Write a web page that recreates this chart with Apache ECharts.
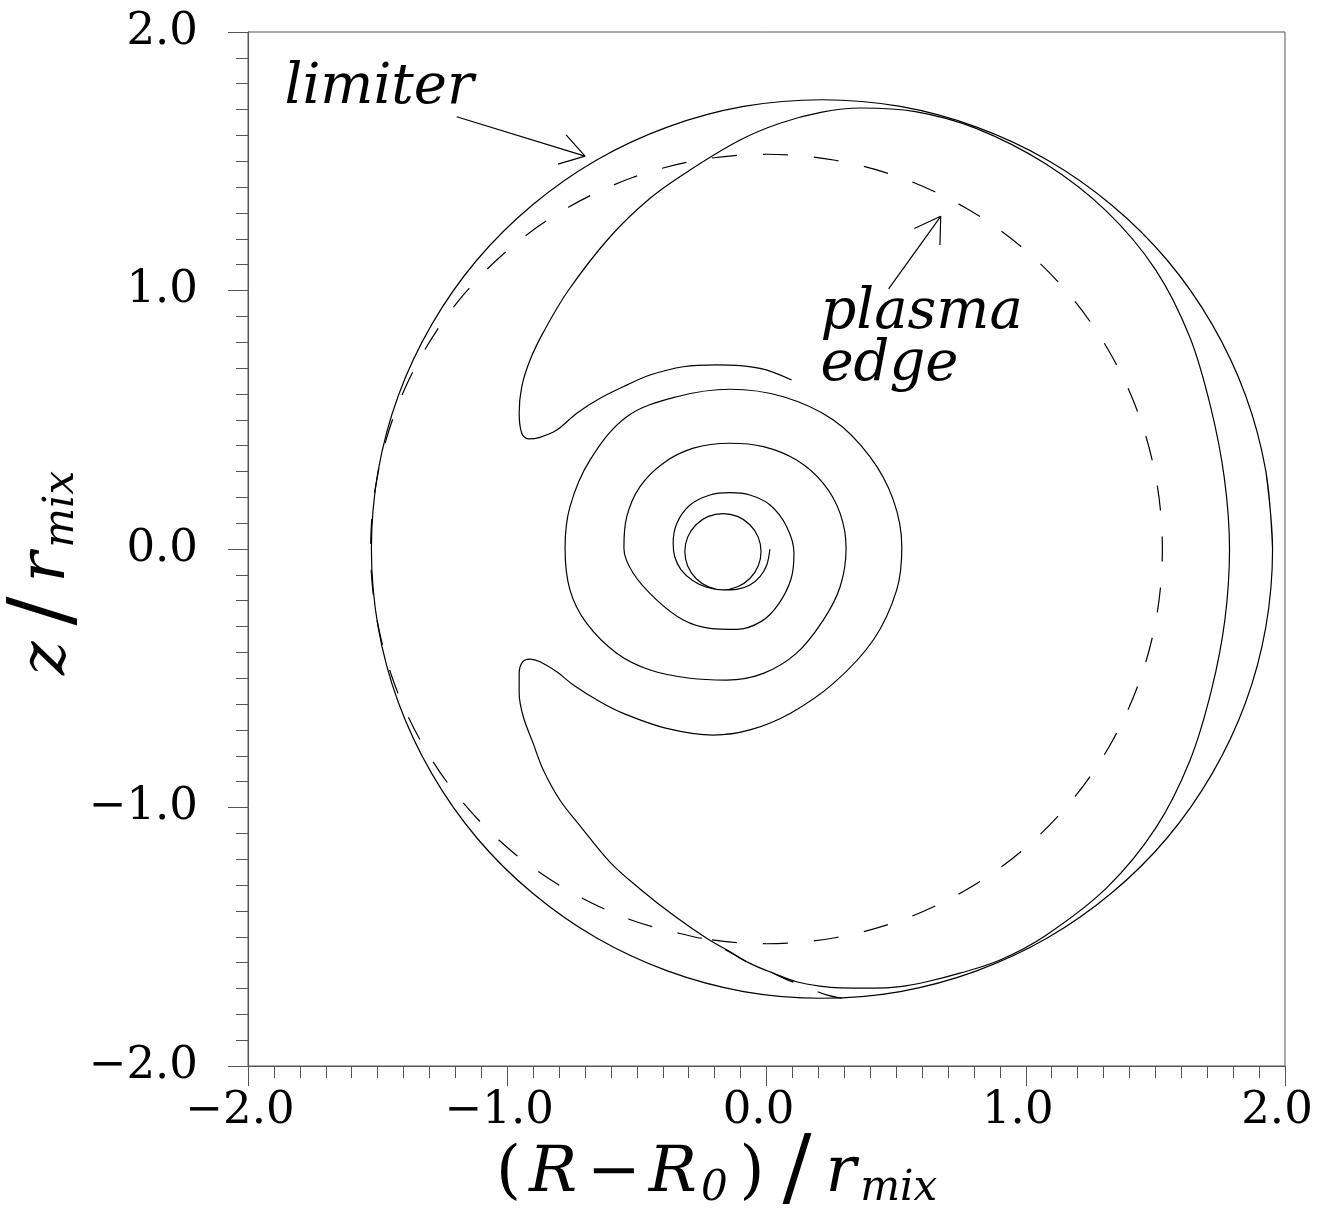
<!DOCTYPE html>
<html><head><meta charset="utf-8">
<script src="https://cdn.jsdelivr.net/npm/echarts@6/dist/echarts.min.js"></script>
<style>html,body{margin:0;padding:0;background:#fff}#c{width:1330px;height:1214px}</style>
</head><body><div id="c"></div>
<script>
// ---------- data ----------
const tickValues = [-2, -1, 0, 1, 2];
const tickLabels = ['−2.0', '−1.0', '0.0', '1.0', '2.0'];

// limiter (solid outer circle)
const limiter = [[1.952,0],[1.926,0.302],[1.848,0.594],[1.719,0.869],[1.545,1.118],[1.331,1.331],[1.083,1.505],[0.808,1.633],[0.516,1.712],[0.214,1.738],[-0.088,1.712],[-0.380,1.633],[-0.655,1.505],[-0.903,1.331],[-1.117,1.118],[-1.291,0.869],[-1.420,0.594],[-1.498,0.302],[-1.524,0],[-1.498,-0.302],[-1.420,-0.594],[-1.291,-0.869],[-1.117,-1.118],[-0.903,-1.331],[-0.655,-1.505],[-0.380,-1.633],[-0.088,-1.712],[0.214,-1.738],[0.516,-1.712],[0.808,-1.633],[1.083,-1.505],[1.331,-1.331],[1.545,-1.118],[1.719,-0.869],[1.848,-0.594],[1.926,-0.302],[1.952,0],[1.926,0.302]];

// plasma edge (dashed), starting at its tail near the bottom of the limiter
const plasmaEdge = [[0.290,-1.738],[0.232,-1.725],[0.141,-1.690],[0.070,-1.662],[0.006,-1.632],[-0.064,-1.604],[-0.141,-1.560],[-0.230,-1.509],[-0.265,-1.504],[-0.522,-1.435],[-0.764,-1.322],[-0.982,-1.170],[-1.170,-0.982],[-1.322,-0.764],[-1.435,-0.522],[-1.504,-0.265],[-1.527,0],[-1.504,0.265],[-1.435,0.522],[-1.322,0.764],[-1.170,0.982],[-0.982,1.170],[-0.764,1.322],[-0.522,1.435],[-0.265,1.504],[0,1.527],[0.265,1.504],[0.522,1.435],[0.764,1.322],[0.982,1.170],[1.170,0.982],[1.322,0.764],[1.435,0.522],[1.504,0.265],[1.527,0],[1.504,-0.265],[1.435,-0.522],[1.322,-0.764],[1.170,-0.982],[0.982,-1.170],[0.764,-1.322],[0.522,-1.435],[0.265,-1.504],[0,-1.527],[-0.133,-1.521],[-0.230,-1.509]];

// spiral field line: centre hook + innermost loop, middle turns, last turn, outer arm
const spiralCore = [[0.013,-0.001],[0.001,-0.062],[-0.025,-0.107],[-0.064,-0.139],[-0.115,-0.156],[-0.168,-0.158],[-0.224,-0.146],[-0.272,-0.114],[-0.304,-0.066],[-0.315,-0.010],[-0.304,0.046],[-0.272,0.094],[-0.224,0.126],[-0.168,0.137],[-0.112,0.126],[-0.064,0.094],[-0.032,0.046],[-0.021,-0.010],[-0.032,-0.066],[-0.064,-0.114],[-0.112,-0.146],[-0.168,-0.158]];
const spiralMiddleTurns = [[-0.168,-0.158],[-0.231,-0.148],[-0.285,-0.122],[-0.330,-0.080],[-0.354,-0.030],[-0.360,0.022],[-0.346,0.099],[-0.295,0.170],[-0.218,0.209],[-0.141,0.218],[-0.064,0.209],[0.014,0.170],[0.078,0.086],[0.106,-0.017],[0.094,-0.118],[0.045,-0.215],[-0.020,-0.280],[-0.115,-0.311],[-0.218,-0.307],[-0.321,-0.275],[-0.424,-0.197],[-0.514,-0.094],[-0.550,0.003],[-0.539,0.125],[-0.488,0.241],[-0.398,0.332],[-0.282,0.390],[-0.141,0.409],[-0.012,0.396],[0.116,0.344],[0.219,0.254],[0.284,0.138],[0.307,0.003],[0.284,-0.146],[0.219,-0.275],[0.116,-0.403],[-0.012,-0.481],[-0.154,-0.507],[-0.295,-0.500],[-0.449,-0.468],[-0.578,-0.403],[-0.694,-0.287],[-0.758,-0.159],[-0.777,0.003]];
const spiralLastTurn = [[-0.777,0.003],[-0.758,0.164],[-0.681,0.344],[-0.539,0.512],[-0.346,0.589],[-0.141,0.618],[0.065,0.589],[0.258,0.499],[0.399,0.357],[0.489,0.190],[0.522,0.009],[0.502,-0.159],[0.412,-0.352],[0.258,-0.520],[0.091,-0.636],[-0.064,-0.700],[-0.205,-0.720],[-0.385,-0.694],[-0.552,-0.636],[-0.642,-0.591],[-0.745,-0.526],[-0.809,-0.475],[-0.874,-0.436],[-0.912,-0.426]];
const spiralOuterArm = [[-0.912,-0.426],[-0.940,-0.436],[-0.954,-0.481],[-0.954,-0.558],[-0.938,-0.649],[-0.900,-0.752],[-0.861,-0.855],[-0.797,-0.971],[-0.716,-1.075],[-0.603,-1.212],[-0.488,-1.315],[-0.360,-1.416],[-0.231,-1.506],[-0.141,-1.558],[-0.064,-1.603],[0.026,-1.641],[0.116,-1.674],[0.206,-1.691],[0.284,-1.698],[0.412,-1.699],[0.515,-1.693],[0.618,-1.674],[0.746,-1.641],[0.901,-1.590],[1.077,-1.495],[1.313,-1.310],[1.501,-1.080],[1.633,-0.819],[1.716,-0.547],[1.768,-0.275],[1.786,0],[1.766,0.274],[1.714,0.546],[1.633,0.819],[1.501,1.080],[1.311,1.307],[1.075,1.491],[0.806,1.628],[0.574,1.692],[0.363,1.706],[0.214,1.690],[0.052,1.647],[-0.102,1.582],[-0.295,1.466],[-0.449,1.357],[-0.604,1.207],[-0.766,0.998],[-0.862,0.836],[-0.912,0.731],[-0.944,0.628],[-0.954,0.525],[-0.944,0.448],[-0.919,0.426],[-0.874,0.432],[-0.809,0.460],[-0.732,0.525],[-0.642,0.583],[-0.539,0.634],[-0.449,0.673],[-0.321,0.705],[-0.192,0.712],[-0.025,0.699],[0.097,0.654]];

// annotation arrows
const limiterArrowShaft = [[-1.195,1.672],[-0.700,1.520]];
const limiterArrowHead = [[-0.773,1.602],[-0.700,1.520],[-0.804,1.489]];
const plasmaArrowShaft = [[0.471,1.006],[0.672,1.287]];
const plasmaArrowHead = [[0.570,1.240],[0.672,1.287],[0.669,1.176]];

// annotation texts and anchors (left edge, vertical middle)
const annoTexts = ['limiter', 'plasma\nedge'];
const annoCoords = [[-1.861, 1.783], [0.206, 0.812]];

// ---------- chart ----------
const serif = "'DejaVu Serif', 'Liberation Serif', serif";
const axisGray = '#555';
const labelFmt = v => {
  const i = tickValues.indexOf(Math.round(v * 10) / 10);
  return i >= 0 ? tickLabels[i] : '';
};
const spiral = spiralCore.concat(spiralMiddleTurns.slice(1), spiralLastTurn.slice(1), spiralOuterArm.slice(1));

const lineBase = (data, extra) => Object.assign({
  type: 'line', data: data, showSymbol: false, symbol: 'none', silent: true,
  lineStyle: { color: '#000', width: 1.2 }, z: 3
}, extra || {});

const richName = {
  n: { fontFamily: serif, fontSize: 64, lineHeight: 72, verticalAlign: 'middle', color: '#000', padding: [0, 6, 0, 6] },
  i: { fontFamily: serif, fontStyle: 'italic', fontSize: 64, lineHeight: 72, verticalAlign: 'middle', color: '#000', padding: [0, 4, 0, 2] },
  s: { fontFamily: serif, fontStyle: 'italic', fontSize: 42, lineHeight: 40, verticalAlign: 'bottom', color: '#000', padding: [0, 6, 0, 0] },
  sl: { fontFamily: serif, fontSize: 86, lineHeight: 72, verticalAlign: 'middle', color: '#000', padding: [0, 12, 0, 12] }
};

const axisCommon = {
  type: 'value', min: -2, max: 2, interval: 1,
  axisLine: { show: true, onZero: false, lineStyle: { color: axisGray, width: 1 } },
  axisTick: { show: true, inside: false, length: 20, lineStyle: { color: axisGray, width: 1 } },
  minorTick: { show: true, splitNumber: 10, length: 12, lineStyle: { color: axisGray, width: 1 } },
  splitLine: { show: false },
  minorSplitLine: { show: false },
  nameMoveOverlap: false
};

const option = {
  animation: false,
  backgroundColor: '#fff',
  grid: { left: 248, right: 45, top: 32, bottom: 148, containLabel: false, outerBoundsMode: 'none',
          show: true, borderColor: axisGray, borderWidth: 1, backgroundColor: 'transparent' },
  xAxis: Object.assign({}, axisCommon, {
    axisLabel: { formatter: labelFmt, fontFamily: serif, fontSize: 45, color: '#000', margin: 23, padding: [0, 16, 0, 0] },
    name: '{n|(}{i|R}{n|−}{i|R}{s|0}{n|)}{sl|/}{i|r}{s|mix}',
    nameLocation: 'middle', nameGap: 72,
    nameTextStyle: { rich: richName, padding: [0, 100, 0, 0] }
  }),
  yAxis: Object.assign({}, axisCommon, {
    axisLabel: { formatter: labelFmt, fontFamily: serif, fontSize: 45, color: '#000', margin: 50 },
    name: '{i|z}{sl|/}{i|r}{s|mix}',
    nameLocation: 'middle', nameGap: 165,
    nameTextStyle: { rich: richName, padding: [0, 44, 0, 0] }
  }),
  series: [
    lineBase(limiter, { smooth: 0.33 }),
    lineBase(plasmaEdge, { smooth: 0.33, lineStyle: { color: '#000', width: 1.2, type: [25, 26] } }),
    lineBase(spiral, { smooth: 0.35 }),
    lineBase(limiterArrowShaft),
    lineBase(limiterArrowHead),
    lineBase(plasmaArrowShaft),
    lineBase(plasmaArrowHead),
    {
      type: 'scatter', data: annoCoords, symbolSize: 1, silent: true, z: 5,
      itemStyle: { color: '#ffffff', opacity: 1 },
      label: {
        show: true, position: 'right', distance: 0, opacity: 1,
        formatter: p => annoTexts[p.dataIndex],
        fontFamily: serif, fontStyle: 'italic', fontSize: 56, lineHeight: 52,
        color: '#000000', textBorderWidth: 0, align: 'left', verticalAlign: 'middle'
      }
    }
  ]
};

const chart = echarts.init(document.getElementById('c'));
chart.setOption(option);
</script>
</body></html>
